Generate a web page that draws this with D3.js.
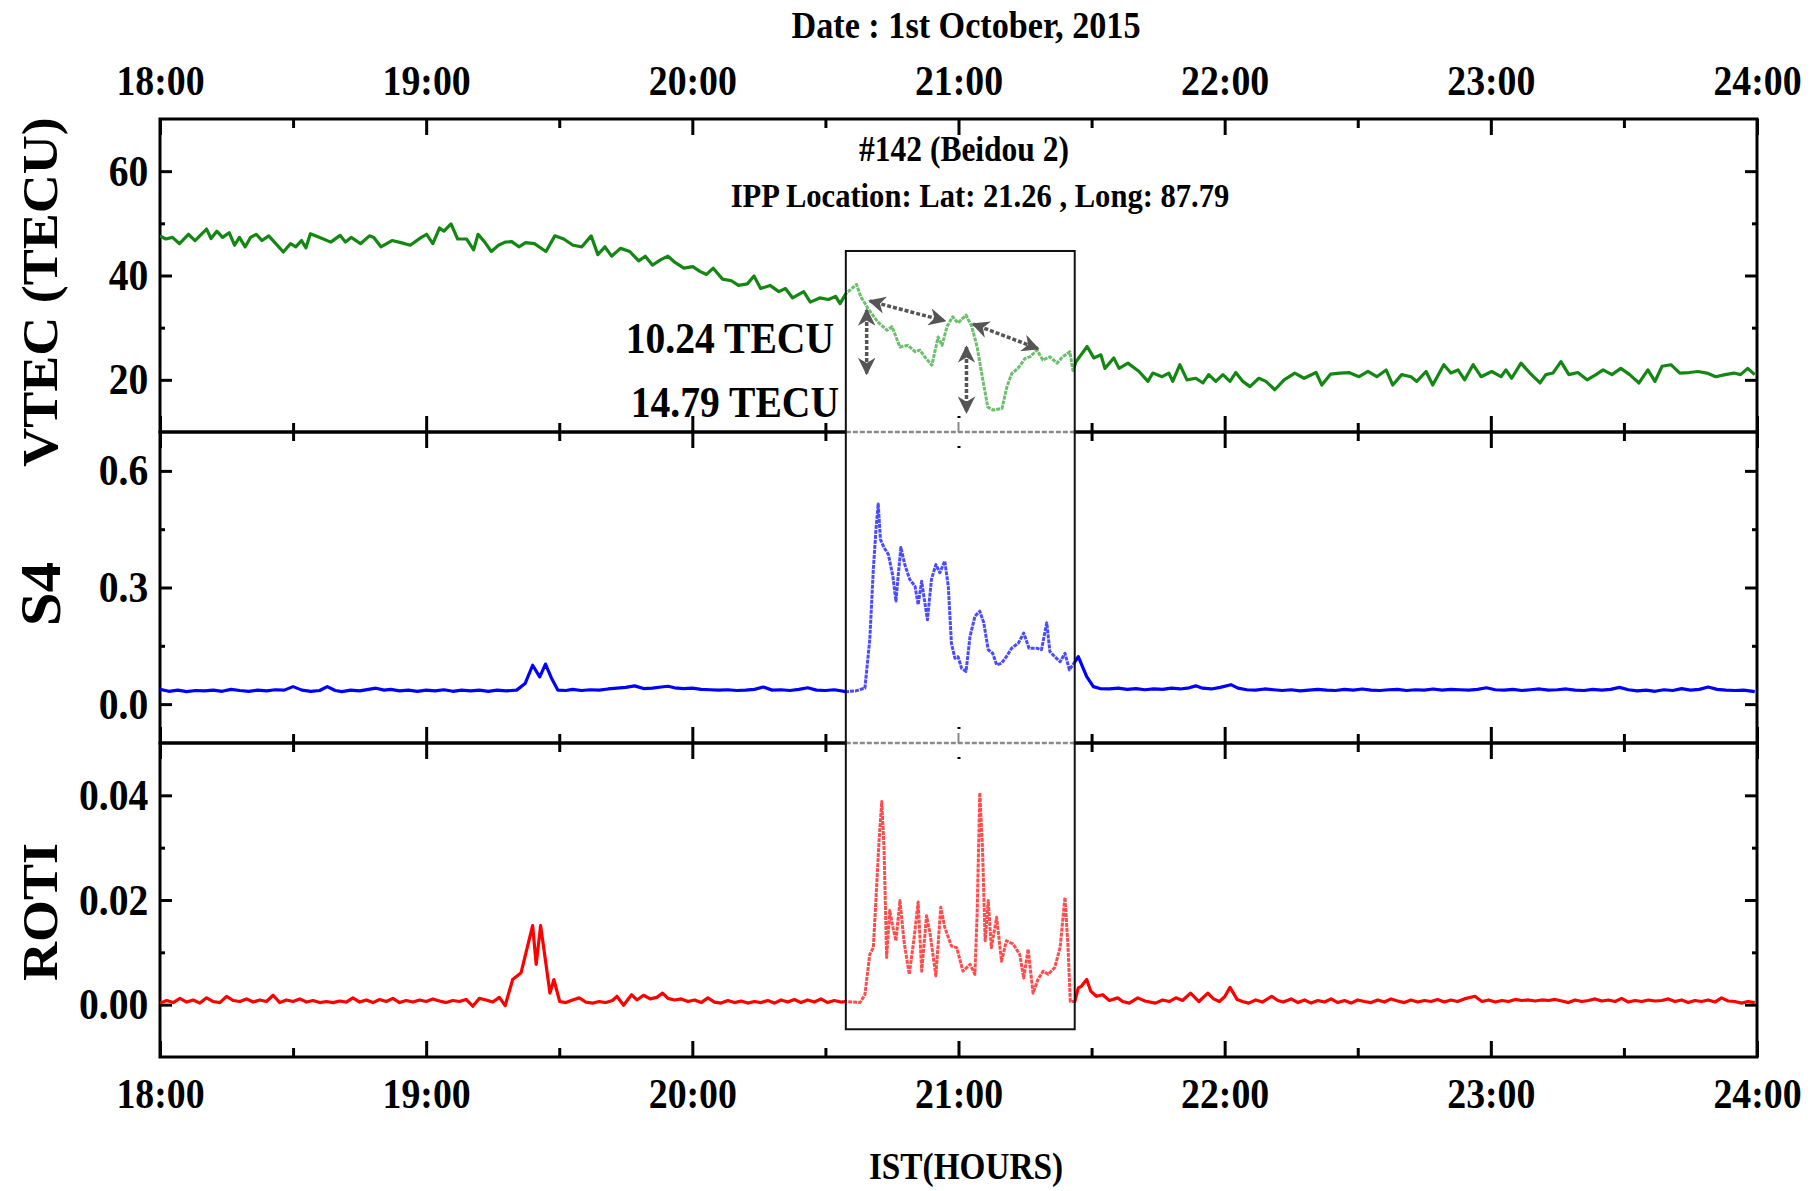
<!DOCTYPE html>
<html>
<head>
<meta charset="utf-8">
<script src="https://cdnjs.cloudflare.com/ajax/libs/d3/7.8.5/d3.min.js"></script>
<style>
body { margin: 0; background: #fff; }
text { font-family: "Liberation Serif", "Times New Roman", serif; font-weight: bold; fill: #000; }
</style>
</head>
<body>
<div id="chart-area"></div>
<script>
// DATA ---------------------------------------------------------
// time = minutes after 18:00 IST
var hourLabels = ["18:00", "19:00", "20:00", "21:00", "22:00", "23:00", "24:00"];
var hourTicks = [0, 60, 120, 180, 240, 300, 360];
var halfHourTicks = [30, 90, 150, 210, 270, 330];

var vtecTicks = [20, 40, 60], vtecMinor = [30, 50];
var s4Ticks = [0.0, 0.3, 0.6], s4Minor = [0.15, 0.45];
var rotiTicks = [0.00, 0.02, 0.04], rotiMinor = [0.01, 0.03];

// disturbed window (the box)
var boxStart = 154.6, boxEnd = 206.2;

var vtecData = [[0,47.6],[1.3,47],[2.8,47.3],[4.4,46.1],[6.4,47.9],[7.9,46.7],[10.5,48.9],[11.5,47.1],[12.8,48.5],[14.1,47.3],
 [15.6,48.2],[16.8,45.8],[17.9,47.3],[19.2,45.5],[20.4,47.3],[21.7,47.9],[23,46.7],[24.5,47.6],[25.8,46.4],[27.8,44.5],
 [29.4,46.1],[30.6,45.5],[31.9,46.7],[32.9,45.3],[33.9,48],[36,47.3],[38.5,46.4],[40.6,47.7],[41.8,46.4],[43.1,47.3],
 [45.2,46.1],[47.2,47.6],[48.2,47.3],[49.8,45.5],[52.3,46.7],[54.3,46.3],[56.4,45.8],[58.9,47.3],[60.1,47.9],[61.5,46.1],
 [63,49.1],[64,48.5],[65.6,49.9],[67.1,47],[69.1,47],[70.7,44.9],[71.7,47.9],[73.2,46.4],[74.7,44.6],[76.3,45.8],
 [77.8,46.4],[79.3,46.5],[80.9,45.5],[82.4,46.3],[84.4,46.1],[87,44.6],[89,47.6],[91,47],[93.1,45.8],[95.1,45.5],
 [97.2,47.6],[98.7,44],[100.3,45.5],[101.8,43.7],[103.8,45.2],[105.9,44.6],[107.9,42.8],[109.4,43.7],[111,42],[113,43.1],
 [114.5,43.7],[116.1,42.5],[118.1,41.4],[120.1,41.7],[121.7,40.8],[123.2,40.2],[124.7,41.4],[126.8,39.3],[128.8,39],[130.4,38.1],
 [132.4,38.4],[133.9,39.9],[135.4,37.5],[137.5,38.1],[139.5,36.9],[141,37.5],[142.6,35.7],[145.1,36.9],[146.6,34.9],[148.7,35.7],
 [150.7,35.4],[152.3,36],[153.3,34.6],[154.6,36.5],
 [157,38.3],[158,35.9],[159.6,33.7],[161.8,31.1],[163.9,29.5],[165,30.2],[166.8,26.3],[168.6,26.6],[170.2,25.4],[171.3,25.7],
 [172.4,24.4],[174,22.8],[175.4,28.2],[176.3,26.6],[177.4,30.2],[178.7,32.1],[179.9,30.9],[181.7,32.4],[183,30.2],[184.2,26.3],
 [185.5,19.9],[186.6,14.8],[187.8,14.2],[189.8,14.5],[190.9,18.6],[192,21.2],[193.4,22.2],[195,24.1],[196.1,24.4],[197.7,25.7],
 [199,23.8],[200.6,24.4],[202.2,23.2],[203.5,24.4],[205.1,25.4],[205.8,21.8],
 [206.5,23.5],[209,26.4],[210.5,24.2],[212.1,24.8],[213,22.2],[215,24.2],[216.2,22.2],[218.2,23.2],[220.7,21.6],[222.7,19.7],
 [223.8,21.3],[225.9,20.6],[227.4,21.3],[228.3,19.7],[229.9,22.9],[231.5,20],[233.5,20.3],[235.1,19.4],[236.4,21],[238,19.7],
 [239.6,21],[241.2,19.7],[242.5,21.4],[244.1,19.7],[245.7,18.7],[247.7,20.3],[249.3,19.7],[251.3,18.1],[253.4,20],[255.8,21.3],
 [257.9,20.3],[260.6,21.4],[261.9,19],[263.9,21.1],[266,21.3],[268,21.4],[270.3,20.6],[272.3,21.6],[274.3,20.6],[276.4,21.9],
 [277.9,19],[279.9,21],[282,20.6],[283.3,19.7],[285.4,21.6],[286.9,19],[289.4,22.9],[291,21.3],[292.6,21.9],[294.1,20],
 [296,22.9],[297.8,20.6],[300.2,21.6],[302.3,20.6],[303.4,21.9],[304.7,20.3],[306.8,23.2],[308.8,21.3],[311.1,19.4],[312.4,21],
 [314,21.3],[315.8,23.5],[317.6,21],[319.6,21.4],[321.7,20],[323.7,21],[325.3,21.9],[327.3,21],[329.3,22.2],[331.3,21],
 [333.4,19.4],[335.4,21.9],[337,19.7],[338.6,22.6],[340.6,22.9],[342.6,21.3],[344.7,21.4],[346.7,21.6],[348.7,21.3],[350.7,20.6],
 [352.8,21],[354.8,21.3],[356.3,21],[357.9,22.2],[359.5,21]];

var s4Data = [[0,0.038],[2,0.033],[4,0.036],[6,0.032],[8,0.035],[10,0.034],[12,0.036],[14,0.033],[16,0.038],[18,0.035],
 [20,0.033],[22,0.036],[24,0.034],[26,0.037],[28,0.036],[30,0.045],[32,0.036],[34,0.033],[36,0.035],[37.7,0.045],
 [39.5,0.035],[41,0.032],[43,0.036],[45,0.034],[47,0.038],[48.7,0.041],[50.5,0.036],[52,0.038],[54,0.034],[56,0.036],
 [58,0.033],[60,0.036],[62,0.034],[64,0.037],[66,0.033],[68,0.036],[70,0.034],[72,0.036],[74,0.033],[76,0.036],
 [78,0.034],[80.4,0.036],[82.3,0.053],[84,0.1],[85.6,0.07],[86.9,0.103],[88.2,0.068],[89.7,0.036],[91.5,0.035],[93,0.038],
 [95,0.035],[97,0.037],[99,0.036],[101,0.039],[103,0.041],[105,0.043],[107,0.047],[109,0.04],[111,0.041],[113,0.044],
 [114.5,0.046],[116,0.042],[118,0.04],[120,0.041],[122,0.038],[124,0.037],[126,0.036],[128,0.037],[130,0.035],[132,0.036],
 [134,0.038],[136,0.044],[138,0.036],[140,0.037],[142,0.035],[144,0.038],[146,0.042],[148,0.036],[150,0.035],[152,0.037],
 [154.6,0.032],
 [156.8,0.034],[158.9,0.041],[160,0.166],[160.8,0.347],[161.4,0.45],[161.9,0.515],[162.4,0.424],[163.2,0.403],[164.2,0.385],[165.2,0.329],
 [165.9,0.265],[166.4,0.329],[167,0.403],[167.9,0.359],[169,0.321],[170.2,0.303],[170.9,0.256],[171.7,0.316],[172.2,0.277],[173,0.217],
 [173.9,0.321],[174.9,0.359],[175.8,0.338],[176.9,0.368],[177.7,0.303],[178.4,0.157],[179.2,0.118],[179.9,0.122],[180.7,0.092],[181.7,0.084],
 [182.6,0.174],[183.7,0.226],[184.8,0.239],[185.7,0.209],[186.7,0.14],[187.7,0.131],[188.6,0.101],[189.7,0.105],[190.8,0.122],[192,0.144],
 [193.5,0.157],[194.7,0.183],[195.9,0.144],[197.6,0.144],[198.7,0.14],[199.9,0.209],[200.6,0.135],[201.7,0.122],[202.9,0.109],[204,0.131],
 [205,0.088],[206,0.105],
 [207,0.122],[208.9,0.071],[210.4,0.045],[211.9,0.04],[214,0.039],[216,0.041],[218,0.038],[220,0.04],[222,0.037],[224,0.039],
 [226,0.038],[228,0.041],[230,0.039],[232,0.042],[233.5,0.047],[235,0.041],[237,0.039],[239,0.043],[241.4,0.05],[243,0.041],
 [245,0.037],[247,0.036],[249,0.039],[251,0.037],[253,0.035],[255,0.037],[257,0.034],[259,0.036],[261,0.038],[263,0.036],
 [265,0.035],[267,0.038],[269,0.036],[271,0.039],[273,0.036],[275,0.035],[277,0.037],[279,0.038],[281,0.035],[283,0.037],
 [285,0.036],[287,0.039],[289,0.036],[291,0.038],[293,0.037],[295,0.036],[297,0.038],[299,0.042],[301,0.037],[303,0.036],
 [305,0.038],[307,0.035],[309,0.037],[311,0.039],[313,0.036],[315,0.037],[317,0.039],[319,0.036],[321,0.035],[323,0.038],
 [325,0.036],[327,0.038],[329,0.043],[331,0.037],[333,0.034],[335,0.036],[337,0.033],[339,0.037],[341,0.035],[343,0.04],
 [345,0.036],[347,0.038],[349,0.044],[351,0.038],[353,0.036],[355,0.035],[357,0.036],[359.5,0.032]];

var rotiData = [[0,0.0003],[1.5,0.0008],[3,0.0004],[4.5,0.0012],[6,0.0005],[7.5,0.0009],[9,0.0003],[10.5,0.0013],[12,0.0006],[13.5,0.0004],
 [15,0.0016],[16.5,0.0008],[18,0.0006],[19.5,0.0011],[21,0.0005],[22.5,0.0009],[24,0.0006],[25.5,0.0018],[27,0.0004],[28.5,0.0009],
 [30,0.0006],[31.5,0.0011],[33,0.0005],[34.5,0.0008],[36,0.0004],[37.5,0.0006],[39,0.0004],[40.5,0.0007],[42,0.0005],[43.5,0.0013],
 [45,0.0005],[46.5,0.0009],[48,0.0004],[49.5,0.001],[51,0.0006],[52.5,0.0012],[54,0.0004],[55.5,0.0008],[57,0.0005],[58.5,0.0009],
 [60,0.0006],[61.5,0.0011],[63,0.0007],[64.5,0.0004],[66,0.0008],[67.5,0.0006],[69,0.001],[70.5,-0.0003],[72,0.0012],[73.5,0.0009],
 [75,0.0005],[76.5,0.0014],[77.8,-0.0002],[79.5,0.0048],[81.4,0.0061],[84,0.0151],[84.8,0.0077],[85.8,0.0151],[86.8,0.009],[87.9,0.0022],
 [88.8,0.0048],[90.1,0.0006],[91.5,0.0004],[93,0.0009],[94.5,0.0013],[96,0.0005],[97.5,0.0003],[99,0.0006],[100.5,0.0004],[102,0.0008],
 [103,0.0016],[104.5,-0.0001],[106.3,0.0019],[107.5,0.0009],[109,0.0018],[110.5,0.0011],[112,0.0014],[113.3,0.0022],[114.5,0.0012],[116,0.0009],
 [117.5,0.0011],[119,0.0006],[120.5,0.0009],[122,0.0004],[123.5,0.0013],[125,0.0005],[126.5,0.0003],[128,0.0008],[129.5,0.0004],[131,0.0007],
 [132.5,0.0003],[134,0.0006],[135.5,0.0004],[137,0.0008],[138.5,0.0003],[140,0.0009],[141.5,0.0005],[143,0.001],[144.5,0.0004],[146,0.0009],
 [147.5,0.0005],[149,0.0011],[150.5,0.0004],[152,0.0008],[153.5,0.0005],[154.6,0.0006],
 [157.8,0.0004],[158.9,0.0019],[160,0.0096],[160.8,0.0109],[161.5,0.0218],[162.1,0.0315],[162.7,0.0388],[163.2,0.0302],[163.8,0.009],[164.5,0.018],
 [165.2,0.0148],[165.9,0.0122],[166.8,0.0199],[167.7,0.0122],[168.9,0.0058],[170,0.0128],[170.9,0.0196],[171.7,0.0064],[172.8,0.017],[173.6,0.0135],
 [174.9,0.0055],[176,0.0186],[176.9,0.0148],[178.4,0.0112],[179.6,0.0109],[181,0.0064],[182.6,0.0077],[183.7,0.0058],[184.2,0.0173],[184.8,0.0405],
 [185.4,0.0302],[186,0.0122],[186.7,0.0199],[187.4,0.0109],[188.6,0.0167],[189.7,0.0083],[190.8,0.0122],[192.3,0.0116],[193.8,0.0096],[194.7,0.0051],
 [195.7,0.0106],[196.8,0.0022],[197.9,0.0048],[199.1,0.0064],[200.2,0.0058],[201.7,0.0071],[202.9,0.0109],[204,0.0205],[204.7,0.0109],[205.2,0.0006],
 [206.2,0.0006],
 [207,0.0032],[207.7,0.0035],[208.9,0.0048],[209.8,0.0026],[211.1,0.0016],[212.5,0.0019],[214,0.0008],[215.9,0.0013],[217,0.0006],[218.5,0.0003],
 [220.4,0.0013],[222,0.0007],[224.4,0.0003],[226,0.0009],[227.5,0.0006],[229,0.0013],[230.5,0.0008],[232.3,0.0022],[234.2,0.0006],[236.2,0.0022],
 [237.5,0.0011],[238.8,0.0006],[240,0.0015],[241.2,0.0033],[242.8,0.001],[244,0.0006],[245.4,0.0003],[247,0.0009],[248.5,0.0005],[250.6,0.0016],
 [252,0.0008],[253.2,0.0005],[255,0.0011],[256.5,0.0004],[258,0.0009],[259.5,0.0003],[261,0.0008],[262.5,0.0005],[264,0.0011],[265.5,0.0004],
 [267,0.0008],[268.5,0.0003],[270,0.0009],[271.5,0.0006],[273,0.0004],[274.5,0.0009],[276,0.0005],[277.5,0.0011],[279,0.0007],[280.5,0.0004],
 [282,0.0009],[283.5,0.0005],[285,0.0008],[286.5,0.0006],[288,0.001],[289.5,0.0005],[291,0.0009],[292.5,0.0006],[294,0.0011],[296.4,0.0016],
 [298,0.0006],[299.5,0.0009],[301,0.0005],[302.5,0.0008],[304,0.0006],[305.5,0.001],[307,0.0008],[308.5,0.0009],[310,0.0007],[311.5,0.0009],
 [313,0.0008],[314.5,0.001],[316,0.0007],[317.5,0.0004],[319,0.0009],[320.5,0.0006],[322,0.0008],[323.5,0.0011],[325,0.0007],[326.5,0.0009],
 [328,0.0006],[329.5,0.0012],[331,0.0005],[332.5,0.0008],[334,0.0006],[335.5,0.0009],[337,0.0007],[338.5,0.0008],[340,0.0011],[341.5,0.0006],
 [343,0.0009],[344.5,0.0004],[346,0.0008],[347.5,0.0006],[349,0.0009],[350.5,0.0005],[352,0.0013],[353.5,0.0007],[355,0.0006],[356.5,0.0003],
 [358,0.0006],[359.5,0.0004]];

// double arrows drawn on the VTEC panel, [t1, v1, t2, v2]
var vtecArrows = [[159.3, 33.4, 159.3, 21.2], [181.8, 26.3, 181.8, 13.8], [160, 35.1, 176.9, 31.3], [183.3, 30.7, 197.9, 26.0]];

// LAYOUT -------------------------------------------------------
var W = 1811, H = 1191;
var left = 160, right = 1757;
var squeeze = 0.9; // the original lettering is a bit narrow

var svg = d3.select("#chart-area").append("svg")
    .attr("width", W)
    .attr("height", H);

var x = d3.scaleLinear().domain([0, 360]).range([left, right]);

var panels = [
    { name: "vtec", top: 119, bottom: 432, data: vtecData, domain: [10, 70], major: vtecTicks, minor: vtecMinor,
      fmt: d3.format("d"), color: "#128812", faint: "#6cbf6c", title: "VTEC (TECU)", titleY: 292, titleSize: 54 },
    { name: "s4", top: 432, bottom: 743, data: s4Data, domain: [-0.1, 0.7], major: s4Ticks, minor: s4Minor,
      fmt: d3.format(".1f"), color: "#0000ff", faint: "#4a4aff", title: "S4", titleY: 594, titleSize: 61 },
    { name: "roti", top: 743, bottom: 1057, data: rotiData, domain: [-0.01, 0.05], major: rotiTicks, minor: rotiMinor,
      fmt: d3.format(".2f"), color: "#ff0000", faint: "#ff4c4c", title: "ROTI", titleY: 912, titleSize: 54 }
];
panels.forEach(p => { p.y = d3.scaleLinear().domain(p.domain).range([p.bottom, p.top]); });

var bx0 = x(boxStart), bx1 = x(boxEnd);

// CLIP PATHS ---------------------------------------------------
var defs = svg.append("defs");
defs.append("clipPath").attr("id", "clip-in")
    .append("rect").attr("x", bx0).attr("y", 0).attr("width", bx1 - bx0).attr("height", H);
var clipOut = defs.append("clipPath").attr("id", "clip-out");
clipOut.append("rect").attr("x", left).attr("y", 0).attr("width", bx0 - left).attr("height", H);
clipOut.append("rect").attr("x", bx1).attr("y", 0).attr("width", right - bx1).attr("height", H);

var marker = defs.append("marker")
    .attr("id", "head")
    .attr("viewBox", "0 0 10 10")
    .attr("refX", 9).attr("refY", 5)
    .attr("markerWidth", 5).attr("markerHeight", 5)
    .attr("orient", "auto-start-reverse");
marker.append("path").attr("d", "M0,0 L10,5 L0,10 L3,5 Z").attr("fill", "#555");

function squeezeText(sel) {
    sel.selectAll("text").attr("transform", "scale(" + squeeze + ",1)");
}

// AXES ---------------------------------------------------------
panels.forEach((p, i) => {
    var g = svg.append("g").attr("class", p.name);

    g.append("rect")
        .attr("x", left).attr("y", p.top)
        .attr("width", right - left).attr("height", p.bottom - p.top)
        .attr("fill", "none").attr("stroke", "#000").attr("stroke-width", 3);

    // left
    var yl = g.append("g").attr("transform", "translate(" + left + ",0)")
        .call(d3.axisLeft(p.y).tickValues(p.major).tickSize(-12).tickPadding(13).tickFormat(p.fmt));
    yl.selectAll("text").style("font-size", "44px");
    squeezeText(yl);
    g.append("g").attr("transform", "translate(" + left + ",0)")
        .call(d3.axisLeft(p.y).tickValues(p.minor).tickSize(-5).tickFormat(""));
    // right
    g.append("g").attr("transform", "translate(" + right + ",0)")
        .call(d3.axisRight(p.y).tickValues(p.major).tickSize(-12).tickFormat(""));
    g.append("g").attr("transform", "translate(" + right + ",0)")
        .call(d3.axisRight(p.y).tickValues(p.minor).tickSize(-5).tickFormat(""));

    // top
    var xt = g.append("g").attr("transform", "translate(0," + p.top + ")")
        .call(d3.axisTop(x).tickValues(hourTicks).tickSize(-16).tickPadding(24)
            .tickFormat((d, k) => i == 0 ? hourLabels[k] : ""));
    xt.selectAll("text").style("font-size", "42px");
    squeezeText(xt);
    g.append("g").attr("transform", "translate(0," + p.top + ")")
        .call(d3.axisTop(x).tickValues(halfHourTicks).tickSize(-9).tickFormat(""));

    // bottom
    var xb = g.append("g").attr("transform", "translate(0," + p.bottom + ")")
        .call(d3.axisBottom(x).tickValues(hourTicks).tickSize(-16).tickPadding(21)
            .tickFormat((d, k) => i == panels.length - 1 ? hourLabels[k] : ""));
    xb.selectAll("text").style("font-size", "42px");
    squeezeText(xb);
    g.append("g").attr("transform", "translate(0," + p.bottom + ")")
        .call(d3.axisBottom(x).tickValues(halfHourTicks).tickSize(-9).tickFormat(""));

    g.selectAll(".domain").remove();
    g.selectAll(".tick line").attr("stroke", "#000").attr("stroke-width", 3);

    // y title
    g.append("text")
        .attr("transform", "translate(40," + p.titleY + ") scale(0.95,1) rotate(-90)")
        .attr("text-anchor", "middle")
        .attr("dy", "0.34em")
        .style("font-size", p.titleSize + "px")
        .text(p.title);
});

// the boxed region looks pasted in: borders there are faint and dashed
[432, 743].forEach(b => {
    svg.append("rect")
        .attr("x", bx0 + 1).attr("y", b - 14)
        .attr("width", bx1 - bx0 - 2).attr("height", 28)
        .attr("fill", "#fff");
    svg.append("line")
        .attr("x1", bx0).attr("x2", bx1).attr("y1", b).attr("y2", b)
        .attr("stroke", "#8a8a8a").attr("stroke-width", 2.5)
        .attr("stroke-dasharray", "5,2");
    svg.append("line")
        .attr("x1", x(180)).attr("x2", x(180)).attr("y1", b - 10).attr("y2", b)
        .attr("stroke", "#888").attr("stroke-width", 2);
});

// LINES --------------------------------------------------------
panels.forEach(p => {
    var line = d3.line()
        .x(d => x(d[0]))
        .y(d => p.y(d[1]));

    svg.append("path")
        .datum(p.data)
        .attr("clip-path", "url(#clip-out)")
        .attr("fill", "none")
        .attr("stroke", p.color)
        .attr("stroke-width", 3.2)
        .attr("stroke-linejoin", "round")
        .attr("d", line);

    svg.append("path")
        .datum(p.data)
        .attr("clip-path", "url(#clip-in)")
        .attr("fill", "none")
        .attr("stroke", p.faint)
        .attr("stroke-width", 3)
        .attr("stroke-dasharray", "4,1")
        .attr("stroke-linejoin", "round")
        .attr("d", line);
});

// BOX + ANNOTATIONS --------------------------------------------
var vt = panels[0].y, rt = panels[2].y;
svg.append("rect")
    .attr("x", bx0).attr("y", vt(44.7))
    .attr("width", bx1 - bx0).attr("height", rt(-0.0047) - vt(44.7))
    .attr("fill", "none").attr("stroke", "#111").attr("stroke-width", 2);

svg.selectAll(".arrow")
    .data(vtecArrows)
    .enter().append("line")
    .attr("class", "arrow")
    .attr("x1", d => x(d[0])).attr("y1", d => vt(d[1]))
    .attr("x2", d => x(d[2])).attr("y2", d => vt(d[3]))
    .attr("stroke", "#555").attr("stroke-width", 3.5)
    .attr("stroke-dasharray", "4,2")
    .attr("marker-start", "url(#head)")
    .attr("marker-end", "url(#head)");

function label(txt, cx, by, size, anchor) {
    svg.append("text")
        .attr("transform", "translate(" + cx + "," + by + ") scale(" + squeeze + ",1)")
        .attr("text-anchor", anchor)
        .style("font-size", size + "px")
        .text(txt);
}

label("Date : 1st October, 2015", 966, 38, 38, "middle");
label("#142 (Beidou 2)", 964, 161, 35, "middle");
label("IPP Location: Lat: 21.26 , Long: 87.79", 980, 207, 34, "middle");
label("10.24 TECU", 834, 353, 44, "end");
label("14.79 TECU", 839, 417, 44, "end");
label("IST(HOURS)", 966, 1179, 37, "middle");
</script>
</body>
</html>
